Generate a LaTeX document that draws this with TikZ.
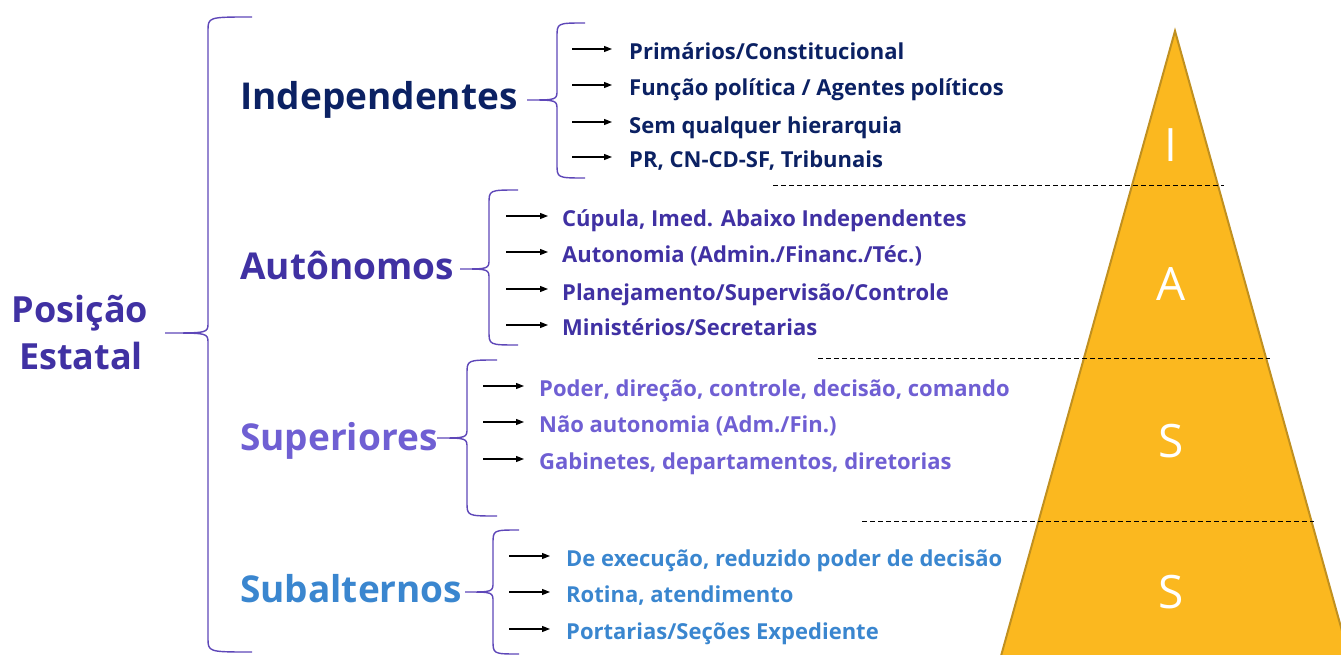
\documentclass[tikz,border=0pt]{standalone}
\usepackage{fontspec}
\setmainfont{Open Sans}
\usetikzlibrary{arrows.meta}
\definecolor{navyc}{HTML}{0B2163}
\definecolor{purpc}{HTML}{4031A3}
\definecolor{lavc}{HTML}{6F5FD3}
\definecolor{bluec}{HTML}{3A86CF}
\definecolor{bracec}{HTML}{5E47B8}
\definecolor{trifill}{HTML}{FBB81F}
\definecolor{tristroke}{HTML}{C09020}
\newcommand\mybrace[6]{%
  \draw[bracestyle] (#3,#4) .. controls (#2,#4) .. ({#2},{#4+14}) -- ({#2},{#5-10})
    .. controls (#2,#5) .. (#1,#5) .. controls (#2,#5) .. ({#2},{#5+10})
    -- ({#2},{#6-14}) .. controls (#2,#6) .. (#3,#6);}
\begin{document}
\begin{tikzpicture}[x=1pt,y=-1pt,
  bracestyle/.style={draw=bracec,line width=1.4pt},
  head/.style={anchor=west,inner sep=0pt,font=\bfseries\fontsize{37}{40}\selectfont,text height=26.4pt,text depth=0pt},
  rootst/.style={anchor=center,inner sep=0pt,text=purpc,font=\bfseries\fontsize{36}{40}\selectfont,text height=25.7pt,text depth=0pt},
  item/.style={anchor=west,inner sep=0pt,font=\bfseries\fontsize{22}{26}\selectfont,text height=15.7pt,text depth=0pt},
  arr/.style={draw=black,line width=1.3pt,-{Triangle[length=8pt,width=6pt]}},
  dashline/.style={draw=black,line width=1pt,dash pattern=on 5pt off 3pt},
  trilet/.style={text=white,font=\fontsize{46}{50}\selectfont,inner sep=0pt,text height=32.8pt,text depth=0pt}]
\useasboundingbox (0,0) rectangle (1341,655);
% pyramid
\draw[fill=trifill,draw=tristroke,line width=2pt] (1175,31) -- (1001,656) -- (1349,656) -- cycle;
\node[trilet] (tI) at (1171,145) {I};
\node[trilet] (tA) at (1171,284) {A};
\node[trilet] (tS1) at (1171,441) {S};
\node[trilet] (tS2) at (1171,592) {S};
\coordinate (d1a) at (773,186); \coordinate (d1b) at (1224,186);
\coordinate (d2a) at (818,358); \coordinate (d2b) at (1270,358);
\coordinate (d3a) at (862,521); \coordinate (d3b) at (1314,521);
\draw[dashline] (d1a) -- (d1b);
\draw[dashline] (d2a) -- (d2b);
\draw[dashline] (d3a) -- (d3b);
% root
\node[rootst] (root1) at (80,310) {Posição};
\node[rootst] (root2) at (81,357) {Estatal};
\mybrace{165}{208}{252}{17}{333}{652}
% headings
\node[head,text=navyc] (h1) at (240,96) {Independentes};
\node[head,text=purpc] (h2) at (240,266) {Autônomos};
\node[head,text=lavc] (h3) at (240,437) {Superiores};
\node[head,text=bluec] (h4) at (240,589) {Subalternos};
\mybrace{527}{557}{585}{23}{100}{178}
\mybrace{460}{489}{518}{190}{269}{345}
\mybrace{437}{467}{497}{360}{438}{516}
\mybrace{465}{493}{519}{530}{592}{654}
% items group 1
\node[item,text=navyc] (i11) at (629,52) {Primários/Constitucional};
\node[item,text=navyc] (i12) at (629,88) {Função política / Agentes políticos};
\node[item,text=navyc] (i13) at (629,126) {Sem qualquer hierarquia};
\node[item,text=navyc] (i14) at (629,160) {PR, CN-CD-SF, Tribunais};
\coordinate (s11) at (572,49); \coordinate (s12) at (572,85);
\coordinate (s13) at (572,122); \coordinate (s14) at (572,157);
\foreach \k in {11,12,13,14} \draw[arr,shorten >=17pt] (s\k) -- (s\k -| i\k.west);
% group 2
\node[item,text=purpc] (i21) at (562,219) {Cúpula, Imed. Abaixo Independentes};
\node[item,text=purpc] (i22) at (562,255) {Autonomia (Admin./Financ./Téc.)};
\node[item,text=purpc] (i23) at (562,293) {Planejamento/Supervisão/Controle};
\node[item,text=purpc] (i24) at (562,328) {Ministérios/Secretarias};
\coordinate (s21) at (506,216); \coordinate (s22) at (506,252);
\coordinate (s23) at (506,289); \coordinate (s24) at (506,325);
\foreach \k in {21,22,23,24} \draw[arr,shorten >=14pt] (s\k) -- (s\k -| i\k.west);
% group 3
\node[item,text=lavc] (i31) at (539,389) {Poder, direção, controle, decisão, comando};
\node[item,text=lavc] (i32) at (539,425) {Não autonomia (Adm./Fin.)};
\node[item,text=lavc] (i33) at (539,462) {Gabinetes, departamentos, diretorias};
\coordinate (s31) at (483,386); \coordinate (s32) at (483,422); \coordinate (s33) at (483,459);
\foreach \k in {31,32,33} \draw[arr,shorten >=15pt] (s\k) -- (s\k -| i\k.west);
% group 4
\node[item,text=bluec] (i41) at (566,559) {De execução, reduzido poder de decisão};
\node[item,text=bluec] (i42) at (566,595) {Rotina, atendimento};
\node[item,text=bluec] (i43) at (566,632) {Portarias/Seções Expediente};
\coordinate (s41) at (509,556); \coordinate (s42) at (509,592); \coordinate (s43) at (509,629);
\foreach \k in {41,42,43} \draw[arr,shorten >=16pt] (s\k) -- (s\k -| i\k.west);
\end{tikzpicture}
\end{document}
